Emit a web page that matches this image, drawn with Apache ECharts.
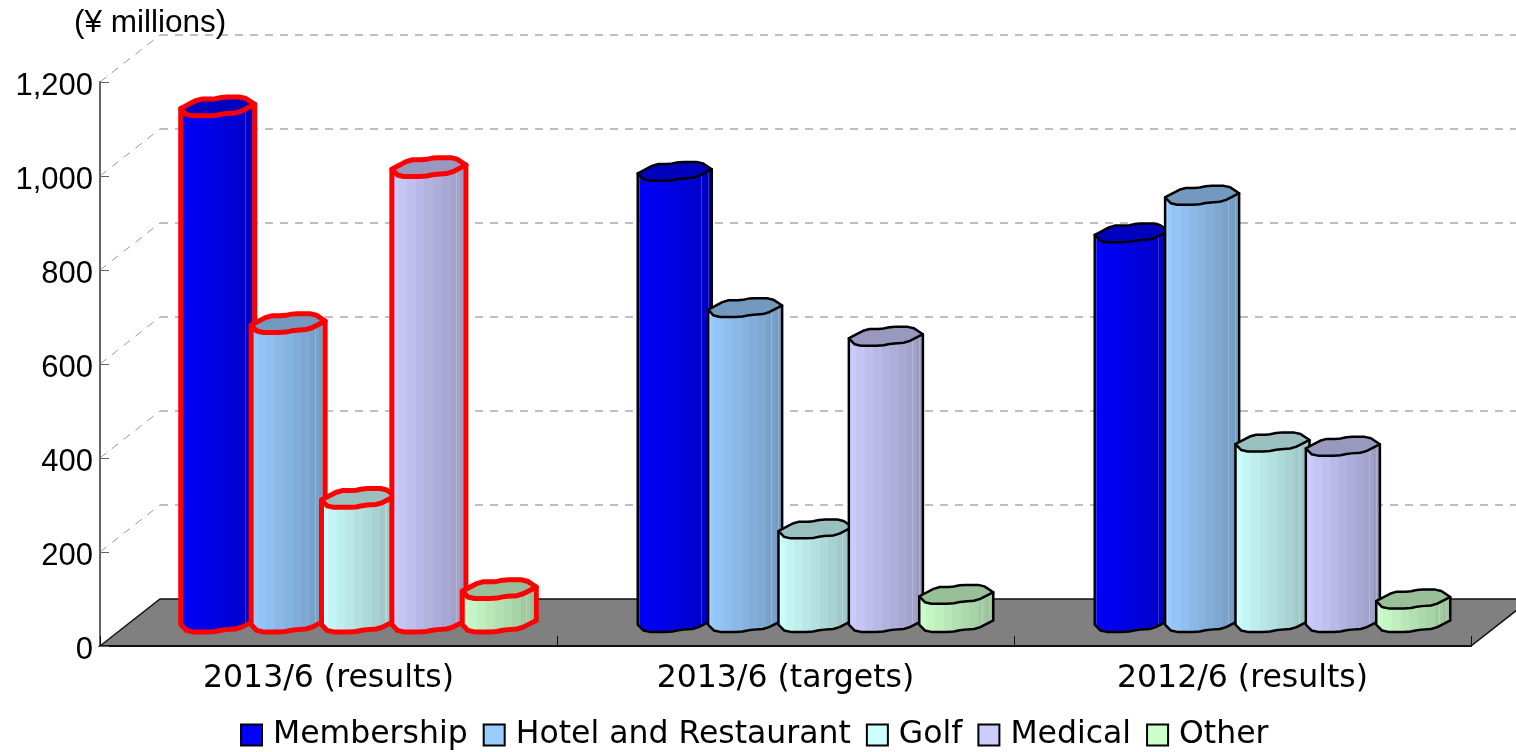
<!DOCTYPE html>
<html>
<head>
<meta charset="utf-8">
<style>
  html, body { margin: 0; padding: 0; background: #fff; }
  #chart { width: 1516px; height: 752px; }
</style>
<script src="https://cdn.jsdelivr.net/npm/echarts@6/dist/echarts.min.js"></script>
</head>
<body>
<div id="chart"></div>
<script>
var categories = ['2013/6 (results)', '2013/6 (targets)', '2012/6 (results)']
var membership = [1098, 960, 829]
var hotel = [637, 670, 909]
var golf = [265, 199, 384]
var medical = [969, 609, 375]
var other = [71, 60, 50]
var seriesNames = ['Membership', 'Hotel and Restaurant', 'Golf', 'Medical', 'Other']
var seriesValues = [membership, hotel, golf, medical, other]
var seriesColors = ['#0000ff', '#99ccff', '#ccffff', '#ccccff', '#ccffcc']
var wallTicks = [200, 400, 600, 800, 1000, 1200]
var highlighted = 0 // first category is outlined in red

// oblique depth of the fake 3D box
var DEPTH_X = 60
var DEPTH_Y = 47
var BAR_STEP = 0.154 // share of the category band
var BAR_HALF = 0.081

// wobbly outline of a cylinder end, left point -> back -> right point -> front
var capBack = [[-1, 0.22], [-0.52, -0.78], [-0.12, -0.78], [0.15, -1], [0.7, -1], [1, -0.22]]
var capFront = [[1, -0.22], [0.56, 0.67], [0.15, 0.78], [-0.12, 1], [-0.81, 1], [-1, 0.22]]

function darken(color, f) {
  return echarts.color.lerp(f, [color, '#000000'])
}

// corner cutting, the two end points stay where they are
function rounded(points) {
  var next = [points[0]]
  for (var i = 0; i < points.length - 1; i++) {
    var a = points[i]
    var b = points[i + 1]
    next.push([a[0] + (b[0] - a[0]) * 0.2, a[1] + (b[1] - a[1]) * 0.2])
    next.push([a[0] + (b[0] - a[0]) * 0.8, a[1] + (b[1] - a[1]) * 0.8])
  }
  next.push(points[points.length - 1])
  return next
}

var capBackRound = rounded(capBack)
var capFrontRound = rounded(capFront)

// hard edged vertical bands, getting darker to the right, with a few thin light lines
function facetFill(color) {
  var bands = 9
  var lines = [[0.035, 0.05], [0.84, 0.855], [0.93, 0.945]]
  var edges = [0, 1]
  for (var i = 1; i < bands; i++) edges.push(i / bands)
  lines.forEach(function(l) { edges.push(l[0], l[1]) })
  edges.sort(function(a, b) { return a - b })
  var stops = []
  for (var k = 0; k < edges.length - 1; k++) {
    var mid = (edges[k] + edges[k + 1]) / 2
    var c = darken(color, 0.028 * Math.floor(mid * bands) + 0.01)
    lines.forEach(function(l) {
      if (mid > l[0] && mid < l[1]) c = echarts.color.lerp(0.2, [c, '#ffffff'])
    })
    stops.push({ offset: edges[k], color: c }, { offset: edges[k + 1], color: c })
  }
  return new echarts.graphic.LinearGradient(0, 0, 1, 0, stops)
}

function renderWalls(params, api) {
  var tick = api.coord([0, api.value(0)])
  var rect = params.coordSys
  var dash = { stroke: '#aaaaaa', lineWidth: 1.5, lineDash: [8, 7] }
  return {
    type: 'group',
    children: [{
      type: 'line',
      shape: { x1: rect.x, y1: tick[1], x2: rect.x + DEPTH_X, y2: tick[1] - DEPTH_Y },
      style: { stroke: '#999999', lineWidth: 1, lineDash: [8, 7] }
    }, {
      type: 'line',
      shape: { x1: rect.x + DEPTH_X, y1: tick[1] - DEPTH_Y, x2: rect.x + rect.width + DEPTH_X, y2: tick[1] - DEPTH_Y },
      style: dash
    }]
  }
}

function renderFloor(params, api) {
  var rect = params.coordSys
  var zero = api.coord([0, 0])[1]
  return {
    type: 'polygon',
    shape: {
      points: [
        [rect.x, zero],
        [rect.x + DEPTH_X, zero - DEPTH_Y],
        [rect.x + rect.width + DEPTH_X, zero - DEPTH_Y],
        [rect.x + rect.width, zero]
      ]
    },
    style: { fill: '#808080', stroke: '#111111', lineWidth: 1.5 }
  }
}

function makeRenderCylinder(seriesIndex) {
  return function(params, api) {
    var band = api.size([1, 0])[0]
    var rx = band * BAR_HALF
    var ry = DEPTH_Y * 0.2
    var cat = api.value(0)
    var top = api.coord([cat, api.value(1)])
    var base = api.coord([cat, 0])
    var cx = base[0] + DEPTH_X / 2 + (seriesIndex - 2) * band * BAR_STEP
    var topY = top[1] - DEPTH_Y / 2
    var baseY = base[1] - DEPTH_Y / 2
    var place = function(p, y) { return [cx + p[0] * rx, y + p[1] * ry] }

    var bodyPoints = [place(capBack[0], topY), place(capBack[5], topY)]
    capFrontRound.forEach(function(p) { bodyPoints.push(place(p, baseY)) })
    var capPoints = capBackRound.concat(capFrontRound).map(function(p) { return place(p, topY) })

    var color = seriesColors[seriesIndex]
    var red = cat === highlighted
    var stroke = red ? '#ff0000' : '#000000'
    var lineWidth = red ? 5 : 2.5
    return {
      type: 'group',
      children: [{
        type: 'polygon',
        shape: { points: bodyPoints },
        style: { fill: facetFill(color), stroke: stroke, lineWidth: lineWidth, lineJoin: 'round' }
      }, {
        type: 'polygon',
        shape: { points: capPoints },
        style: { fill: darken(color, 0.25), stroke: stroke, lineWidth: lineWidth, lineJoin: 'round' }
      }]
    }
  }
}

var series = [{
  type: 'custom',
  name: 'walls',
  z: 1,
  silent: true,
  renderItem: renderWalls,
  data: wallTicks.map(function(v) { return [v] }),
  encode: { y: 0 }
}, {
  type: 'custom',
  name: 'floor',
  z: 1,
  silent: true,
  renderItem: renderFloor,
  data: [[0]],
  encode: { y: 0 }
}]

seriesNames.forEach(function(name, i) {
  series.push({
    type: 'custom',
    name: name,
    z: 2,
    renderItem: makeRenderCylinder(i),
    itemStyle: { color: seriesColors[i] },
    data: seriesValues[i].map(function(v, c) { return [c, v] }),
    encode: { x: 0, y: 1 }
  })
})

var labelFont = '"DejaVu Sans", sans-serif'
var numberFont = '"Liberation Sans", sans-serif'

var chart = echarts.init(document.getElementById('chart'))
chart.setOption({
  animation: false,
  backgroundColor: '#ffffff',
  title: {
    text: '(¥ millions)',
    left: 74,
    top: 7,
    padding: 0,
    textStyle: { fontFamily: numberFont, fontSize: 31.5, fontWeight: 'normal', color: '#000' }
  },
  grid: { left: 100, top: 82, width: 1371, height: 564 },
  legend: {
    data: seriesNames,
    left: 240,
    top: 719,
    padding: 0,
    itemWidth: 21,
    itemHeight: 21,
    itemGap: 15,
    icon: 'rect',
    itemStyle: { borderColor: '#000', borderWidth: 2 },
    textStyle: { fontFamily: labelFont, fontSize: 31.5, color: '#000', padding: [0, 0, 0, 6] }
  },
  xAxis: {
    type: 'category',
    data: categories,
    z: 10,
    axisLine: { lineStyle: { color: '#111111', width: 2 } },
    axisTick: { show: true, inside: true, length: 10, lineStyle: { color: '#111111', width: 1 } },
    axisLabel: { fontFamily: labelFont, fontSize: 31.5, color: '#000', margin: 17 },
    splitLine: { show: false }
  },
  yAxis: {
    type: 'value',
    min: 0,
    max: 1200,
    interval: 200,
    z: 10,
    axisLine: { show: true, lineStyle: { color: '#666666', width: 2 } },
    axisTick: { show: true, inside: true, length: 9, lineStyle: { color: '#666666', width: 1 } },
    axisLabel: {
      color: '#000',
      margin: 7,
      formatter: function(v) { return '{n|' + echarts.format.addCommas(v) + '}' },
      rich: {
        n: { fontFamily: numberFont, fontSize: 31, color: '#000', padding: [8, 0, 0, 0] }
      }
    },
    splitLine: { show: false }
  },
  series: series
})
</script>
</body>
</html>
